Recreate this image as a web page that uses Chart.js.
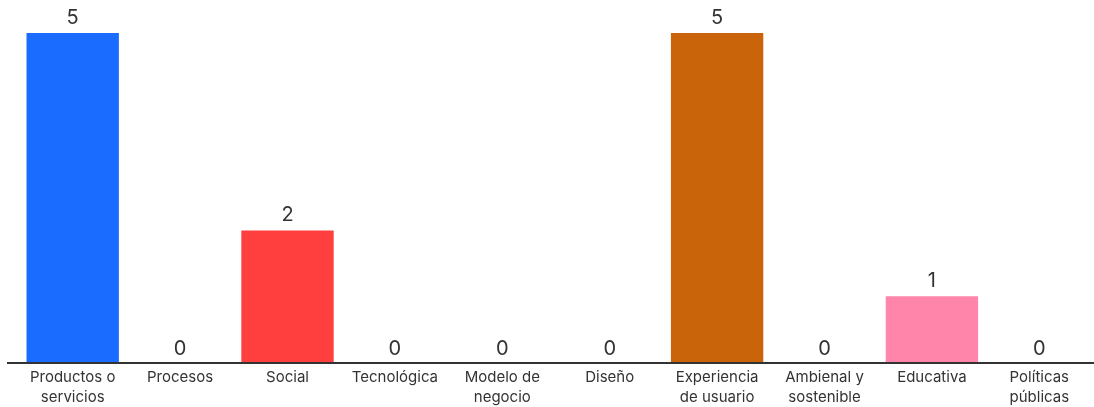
<!DOCTYPE html>
<html>
<head>
<meta charset="utf-8">
<script src="https://cdn.jsdelivr.net/npm/chart.js@4"></script>
<style>
  html, body { margin: 0; padding: 0; background: #fff; }
  #wrap { width: 1094px; height: 407px; }
</style>
</head>
<body>
<div id="wrap"><canvas id="chart"></canvas></div>
<script>
const categories = [
  ['Productos o', 'servicios'], 'Procesos', 'Social', 'Tecnológica', ['Modelo de', 'negocio'],
  'Diseño', ['Experiencia', 'de usuario'], ['Ambienal y', 'sostenible'], 'Educativa', ['Políticas', 'públicas']
];
const counts = [5, 0, 2, 0, 0, 0, 5, 0, 1, 0];
const barColors = ['#1a6bff', '#9e9e9e', '#ff3e3e', '#9e9e9e', '#9e9e9e', '#9e9e9e', '#c9640b', '#9e9e9e', '#ff85ab', '#9e9e9e'];

// value numbers above each bar
const valueLabels = {
  id: 'valueLabels',
  afterDatasetsDraw(chart) {
    const ctx = chart.ctx;
    const meta = chart.getDatasetMeta(0);
    ctx.save();
    ctx.font = '20px Inter, "Noto Sans", sans-serif';
    ctx.fillStyle = '#333';
    ctx.textAlign = 'center';
    ctx.textBaseline = 'bottom';
    meta.data.forEach((bar, i) => {
      ctx.fillText(String(counts[i]), bar.x, bar.y - (counts[i] ? 5 : 3));
    });
    ctx.restore();
  }
};

// baseline running almost full width
const baseLine = {
  id: 'baseLine',
  afterDatasetsDraw(chart) {
    const ctx = chart.ctx;
    const y = chart.scales.y.getPixelForValue(0);
    ctx.save();
    ctx.strokeStyle = '#333';
    ctx.lineWidth = 2;
    ctx.beginPath();
    ctx.moveTo(7, y + 1);
    ctx.lineTo(chart.width, y + 1);
    ctx.stroke();
    ctx.restore();
  }
};

new Chart(document.getElementById('chart'), {
  type: 'bar',
  data: {
    labels: categories,
    datasets: [{
      data: counts,
      backgroundColor: barColors,
      barPercentage: 0.86,
      categoryPercentage: 1
    }]
  },
  options: {
    responsive: true,
    maintainAspectRatio: false,
    animation: false,
    layout: { padding: { top: 33, left: 19, right: 1, bottom: -6 } },
    plugins: { legend: { display: false }, tooltip: { enabled: false } },
    scales: {
      x: {
        grid: { display: false, drawTicks: false },
        border: { display: false },
        ticks: {
          color: '#333',
          padding: 6,
          maxRotation: 0,
          autoSkip: false,
          font: { family: 'Inter, "Noto Sans", sans-serif', size: 15, lineHeight: 1.3 }
        }
      },
      y: {
        display: false,
        min: 0,
        max: 5
      }
    }
  },
  plugins: [valueLabels, baseLine]
});
</script>
</body>
</html>
